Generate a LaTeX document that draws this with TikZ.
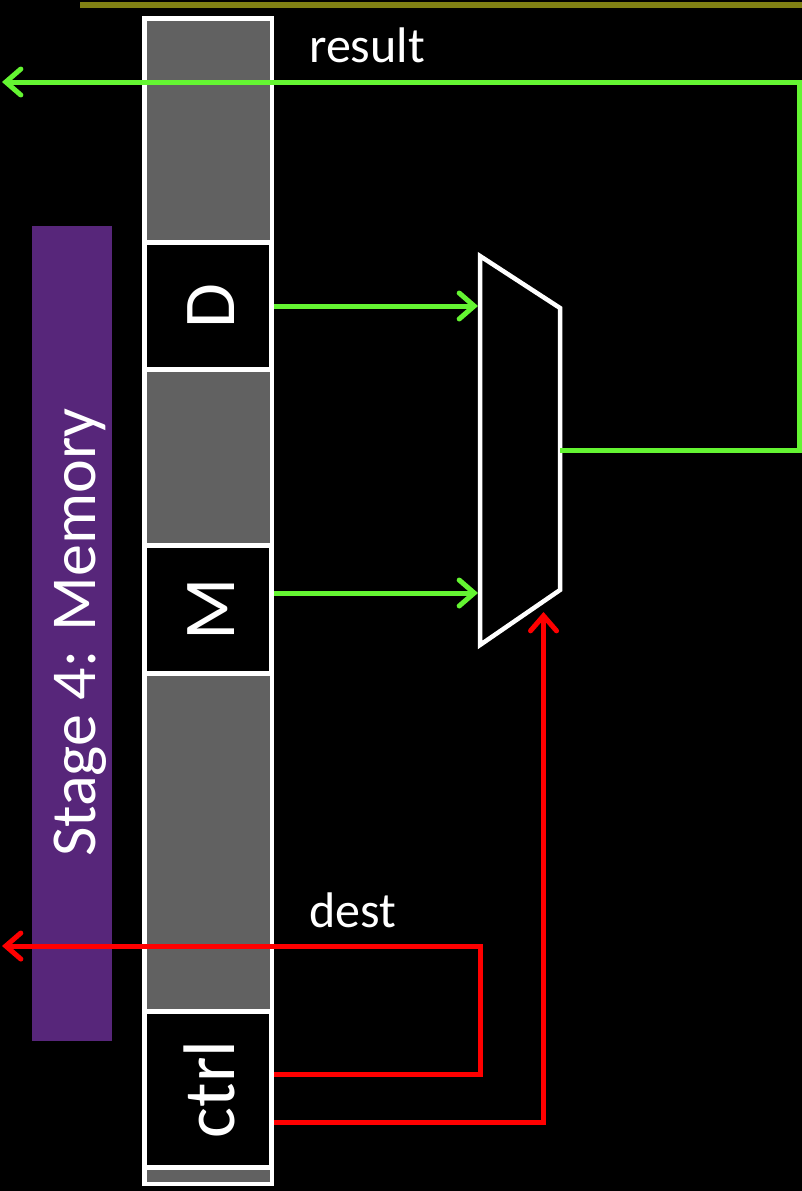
\documentclass[tikz,border=0pt]{standalone}
\usepackage{fontspec}
\setmainfont{Carlito}
\usetikzlibrary{arrows.meta}
\definecolor{regGray}{RGB}{97,97,97}
\definecolor{sigGreen}{RGB}{100,245,50}
\definecolor{sigRed}{RGB}{255,0,0}
\definecolor{stagePurple}{RGB}{87,38,122}
\definecolor{barOlive}{RGB}{128,128,20}
\begin{document}
\begin{tikzpicture}[
        x=1pt,y=-1pt,
        >={Straight Barb[length=15pt,width=26pt,line cap=round]},
        regsty/.style={
            draw=white,fill=regGray,line width=4.5pt,
            minimum width=127.5pt,minimum height=1165.5pt,
            inner sep=0pt,
        },
        boxsty/.style={
            draw=white,fill=black,line width=4.5pt,
            minimum width=127pt,inner sep=0pt,
        },
        boxtxt/.style={
            text=white,rotate=90,anchor=base,inner sep=0pt,
            font=\fontsize{73}{80}\selectfont,
        },
        lbltxt/.style={
            text=white,anchor=base west,inner sep=0pt,
            font=\fontsize{50}{56}\selectfont,
        },
        grnsty/.style={draw=sigGreen,line width=5pt},
        redsty/.style={draw=sigRed,line width=5pt},
        muxsty/.style={draw=white,line width=4.5pt,line join=miter},
    ]

    \fill[black] (0,0) rectangle (802,1191);
    \useasboundingbox (0,0) rectangle (802,1191);

    \draw[draw=barOlive,line width=6pt] (80,5) -- (802,5);

    \node[draw=none,fill=stagePurple,minimum width=80pt,minimum height=815pt,inner sep=0pt] (stage) at (72,633.5) {};
    \node[text=white,rotate=90,anchor=base,inner sep=0pt,font=\fontsize{64}{70}\selectfont] at (95,632.5) {Stage 4: Memory};

    \node[regsty] (reg) at (208,601) {};
    \foreach \nm/\cy/\ht in {D/306/127,M/609.5/128,ctrl/1089.5/156}{
        \node[boxsty,minimum height=\ht pt] (\nm) at (208,\cy) {};
        \node[boxtxt] at (234,\cy) {\nm};
    }

    \coordinate (mux-tl) at (480,256);
    \coordinate (mux-tr) at (560,308);
    \coordinate (mux-br) at (560,590);
    \coordinate (mux-bl) at (480,645);
    \draw[muxsty] (mux-tl) -- (mux-tr) -- (mux-br) -- (mux-bl) -- cycle;
    \coordinate (min1) at (478,306);
    \coordinate (min2) at (478,593);
    \coordinate (mout) at (560,450);
    \coordinate (msel) at (543.5,612);
    \coordinate (res) at (2,82);
    \coordinate (dst) at (2,946);

    \draw[grnsty,->] (D.east |- min1) -- (min1);
    \draw[grnsty,->] (M.east |- min2) -- (min2);
    \draw[grnsty,->] (mout) -- ++(239.5,0) |- (res);
    \draw[redsty,->] ([yshift=15.5pt]ctrl.east) -- ([yshift=15.5pt]ctrl.east -| mux-bl) |- (dst);
    \draw[redsty,->] ([yshift=-32.5pt]ctrl.east) -| (msel);

    \node[lbltxt] (result) at (309,62) {result};
    \node[lbltxt] (dest) at (309,927) {dest};

\end{tikzpicture}
\end{document}
